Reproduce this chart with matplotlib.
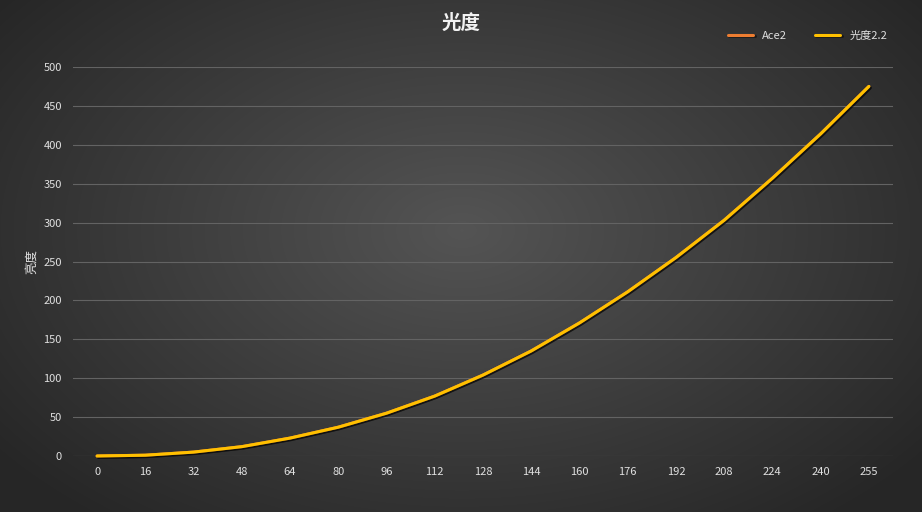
import numpy as np
import matplotlib
matplotlib.use('Agg')
import matplotlib.pyplot as plt
import matplotlib.patheffects as pe

plt.rcParams['font.family'] = ['Noto Sans CJK SC', 'DejaVu Sans']

levels = ['0', '16', '32', '48', '64', '80', '96', '112', '128', '144',
          '160', '176', '192', '208', '224', '240', '255']
ace2 = [0, 1, 5, 12, 23, 37, 55, 77, 104, 135, 171, 211, 255, 303, 357, 414, 475]
gamma22 = [0, 1, 5, 12, 23, 37, 55, 77, 104, 135, 171, 211, 255, 303, 357, 414, 475]

fig = plt.figure(figsize=(9.22, 5.12), dpi=100)

# radial gradient background
bg = fig.add_axes([0, 0, 1, 1], zorder=-10)
yy, xx = np.mgrid[0:512, 0:922]
r = np.sqrt(((xx - 461) / 520.0) ** 2 + ((yy - 230) / 330.0) ** 2)
shade = np.clip(0.33 - 0.16 * r, 0.15, 0.33)
bg.imshow(np.dstack([shade] * 3), aspect='auto', extent=[0, 1, 0, 1])
bg.axis('off')

ax = fig.add_axes([73 / 922, 56 / 512, 820 / 922, 389 / 512])
ax.patch.set_alpha(0)
x = np.arange(len(levels))
shadow = [pe.SimpleLineShadow(offset=(1, -1), shadow_color='black', alpha=0.45), pe.Normal()]
ax.plot(x, ace2, color='#ED7D31', lw=2.2, label='Ace2', clip_on=False,
        solid_capstyle='round', path_effects=shadow)
ax.plot(x, gamma22, color='#FFC000', lw=2.2, label='光度2.2', clip_on=False,
        solid_capstyle='round', path_effects=shadow)

ax.set_xlim(-0.5, len(levels) - 0.5)
ax.set_ylim(0, 500)
ax.set_yticks(range(0, 501, 50))
ax.set_xticks(x)
ax.set_xticklabels(levels)
ax.grid(axis='y', color='#636363', lw=0.8)
ax.set_axisbelow(True)
for s in ax.spines.values():
    s.set_visible(False)
ax.tick_params(length=0, colors='#e0e0e0', labelsize=8, pad=8)

ax.set_ylabel('亮度', color='#e0e0e0', fontsize=9, labelpad=4)
fig.text(0.5, 0.955, '光度', ha='center', va='center', color='#f2f2f2',
         fontsize=14, fontweight='bold')

leg = ax.legend(loc='upper right', bbox_to_anchor=(1.005, 1.12), ncol=2, frameon=False,
                fontsize=8, labelcolor='#e0e0e0', handlelength=2.3, columnspacing=2.5)

fig.savefig('out.png', dpi=100)
